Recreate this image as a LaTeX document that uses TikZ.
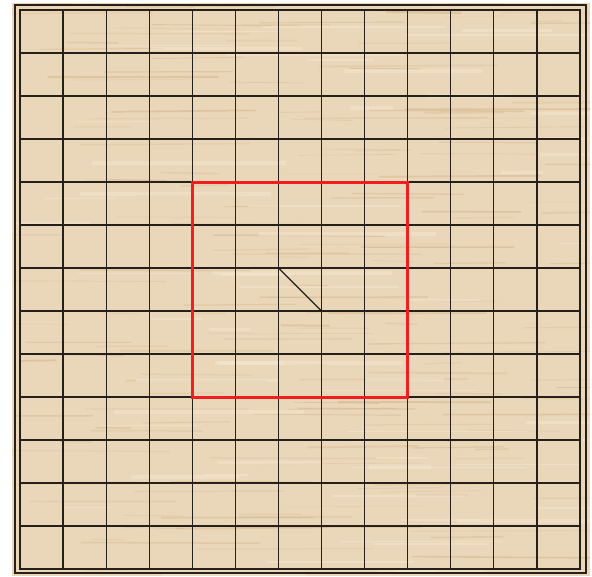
\documentclass[tikz,border=0pt]{standalone}
\definecolor{wood}{RGB}{234,214,184}
\definecolor{grain}{RGB}{200,165,120}
\definecolor{lightgrain}{RGB}{244,230,208}
\definecolor{gridc}{RGB}{38,32,26}
\definecolor{markred}{RGB}{240,30,30}
\begin{document}
\begin{tikzpicture}[x=1pt,y=-1pt,
  boardline/.style={draw=gridc, line width=1.2pt},
  frameline/.style={draw=gridc, line width=2pt},
  markbox/.style={draw=markred, line width=3pt},
  moveline/.style={draw=gridc, line width=1.3pt}]
\useasboundingbox (0,0) rectangle (592,576);
\fill[white] (0,0) rectangle (592,576);
\fill[wood] (12,3) rectangle (590,576);
\begin{scope}
\clip (12,3) rectangle (590,576);
\pgfmathsetseed{11}
\foreach \i in {1,...,160}{
  \pgfmathsetmacro\yy{3+rnd*573}
  \pgfmathsetmacro\xx{rnd*560}
  \pgfmathsetmacro\len{30+rnd*160}
  \pgfmathsetmacro\lw{0.5+rnd*1.5}
  \pgfmathsetmacro\op{0.12+rnd*0.25}
  \draw[grain, opacity=\op, line width=\lw pt] (\xx,\yy) -- ++(\len,{(rnd-0.5)*3});
}
\foreach \i in {1,...,60}{
  \pgfmathsetmacro\yy{3+rnd*573}
  \pgfmathsetmacro\xx{rnd*560}
  \pgfmathsetmacro\len{40+rnd*160}
  \pgfmathsetmacro\lw{1+rnd*3}
  \draw[lightgrain, opacity=0.5, line width=\lw pt] (\xx,\yy) -- ++(\len,0);
}
\end{scope}
% frame
\draw[frameline] (15,5) rectangle (586,573);
\draw[boardline] (20,10) rectangle (580,569);
% grid
\foreach \i in {1,...,12}{
  \draw[boardline] ({20+\i*560/13},10) -- ({20+\i*560/13},569);
  \draw[boardline] (20,{10+\i*559/13}) -- (580,{10+\i*559/13});
}
% marked region
\coordinate (r1) at ({20+4*560/13},{10+4*559/13});
\coordinate (r2) at ({20+9*560/13},{10+9*559/13});
\draw[markbox] (r1) rectangle (r2);
% move segment
\coordinate (m1) at ({20+6*560/13},{10+6*559/13});
\coordinate (m2) at ({20+7*560/13},{10+7*559/13});
\draw[moveline] (m1) -- (m2);
\end{tikzpicture}
\end{document}
